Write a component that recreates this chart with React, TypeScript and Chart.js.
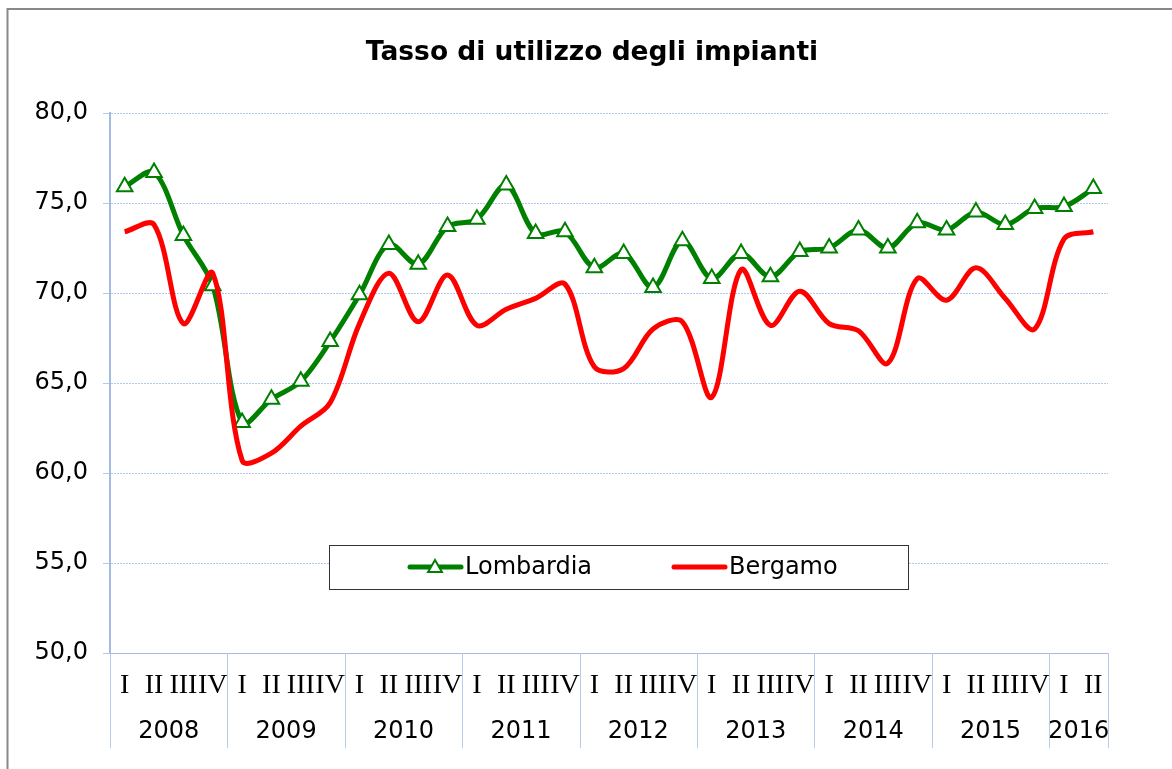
import { useEffect, useRef } from 'react';
import { Chart, registerables } from 'chart.js';

Chart.register(...registerables);

const TITLE = 'Tasso di utilizzo degli impianti';

const quarterLabels = [
  'I', 'II', 'III', 'IV',
  'I', 'II', 'III', 'IV',
  'I', 'II', 'III', 'IV',
  'I', 'II', 'III', 'IV',
  'I', 'II', 'III', 'IV',
  'I', 'II', 'III', 'IV',
  'I', 'II', 'III', 'IV',
  'I', 'II', 'III', 'IV',
  'I', 'II',
];

const yearLabels = ['2008', '2009', '2010', '2011', '2012', '2013', '2014', '2015', '2016'];
const quartersPerYear = [4, 4, 4, 4, 4, 4, 4, 4, 2];

const lombardia = [
  75.9, 76.7, 73.2, 70.4,
  62.8, 64.1, 65.1, 67.3,
  69.9, 72.7, 71.6, 73.7,
  74.1, 76.0, 73.3, 73.4,
  71.4, 72.2, 70.3, 72.9,
  70.8, 72.2, 70.9, 72.3,
  72.5, 73.5, 72.5, 73.9,
  73.5, 74.5, 73.8, 74.7,
  74.8, 75.8,
];

const bergamo = [
  73.4, 73.8, 68.3, 71.1,
  60.7, 61.1, 62.6, 63.9,
  68.3, 71.1, 68.4, 71.0,
  68.2, 69.1, 69.7, 70.5,
  65.9, 65.8, 68.0, 68.4,
  64.2, 71.3, 68.2, 70.1,
  68.3, 67.9, 66.1, 70.8,
  69.6, 71.4, 69.7, 68.0,
  73.0, 73.4,
];

const Y_MIN = 50;
const Y_MAX = 80;
const Y_STEP = 5;

const GREEN = '#008000';
const RED = '#ff0000';
const AXIS_BLUE = '#a3bbe4';
const GRID_BLUE = '#b3c7ee';
const SANS = '"DejaVu Sans", Verdana, sans-serif';
const SERIF = '"Liberation Serif", "Times New Roman", serif';

const decorPlugin = {
  id: 'decor',
  beforeDraw(chart: any) {
    const { ctx, width, height } = chart;
    ctx.save();
    ctx.fillStyle = '#ffffff';
    ctx.fillRect(0, 0, width, height);
    ctx.strokeStyle = '#888888';
    ctx.lineWidth = 2;
    ctx.strokeRect(7.5, 9, width + 50, height + 50);
    ctx.restore();
  },
  afterDraw(chart: any) {
    const { ctx, chartArea } = chart;
    const xs = chart.scales.x;
    ctx.save();

    // Title
    ctx.fillStyle = '#000000';
    ctx.font = `bold 26.5px ${SANS}`;
    ctx.textAlign = 'center';
    ctx.textBaseline = 'middle';
    ctx.fillText(TITLE, 592, 53);

    // Quarter labels
    ctx.font = `28px ${SERIF}`;
    ctx.textBaseline = 'middle';
    quarterLabels.forEach((q, i) => {
      ctx.fillText(q, xs.getPixelForValue(i), chartArea.bottom + 33);
    });

    // Year groups and separators
    ctx.font = `24px ${SANS}`;
    ctx.strokeStyle = '#b9c9e8';
    ctx.lineWidth = 1;
    let start = 0;
    yearLabels.forEach((y, k) => {
      const n = quartersPerYear[k];
      const x0 = xs.getPixelForValue(start - 0.5);
      const x1 = xs.getPixelForValue(start + n - 0.5);
      ctx.fillText(y, (x0 + x1) / 2, chartArea.bottom + 79);
      ctx.beginPath();
      ctx.moveTo(Math.round(x0) + 0.5, chartArea.bottom);
      ctx.lineTo(Math.round(x0) + 0.5, chartArea.bottom + 95);
      ctx.stroke();
      if (k === yearLabels.length - 1) {
        ctx.beginPath();
        ctx.moveTo(Math.round(x1) + 0.5, chartArea.bottom);
        ctx.lineTo(Math.round(x1) + 0.5, chartArea.bottom + 95);
        ctx.stroke();
      }
      start += n;
    });

    // Legend box
    const bx = 329, by = 545, bw = 579, bh = 44;
    ctx.fillStyle = '#ffffff';
    ctx.fillRect(bx, by, bw, bh);
    ctx.strokeStyle = '#333333';
    ctx.lineWidth = 1;
    ctx.strokeRect(bx + 0.5, by + 0.5, bw, bh);
    const ly = by + bh / 2;
    ctx.lineCap = 'round';
    ctx.lineWidth = 5;
    ctx.strokeStyle = GREEN;
    ctx.beginPath();
    ctx.moveTo(410, ly);
    ctx.lineTo(461, ly);
    ctx.stroke();
    // triangle marker
    const r = 8;
    ctx.lineCap = 'butt';
    ctx.lineWidth = 2;
    ctx.beginPath();
    for (let j = 0; j < 3; j++) {
      const a = j * (2 * Math.PI / 3);
      const px = 435 + Math.sin(a) * r;
      const py = ly + 1 - Math.cos(a) * r;
      if (j === 0) ctx.moveTo(px, py); else ctx.lineTo(px, py);
    }
    ctx.closePath();
    ctx.fillStyle = '#ffffff';
    ctx.fill();
    ctx.stroke();
    ctx.lineCap = 'round';
    ctx.lineWidth = 5;
    ctx.strokeStyle = RED;
    ctx.beginPath();
    ctx.moveTo(674, ly);
    ctx.lineTo(725, ly);
    ctx.stroke();
    ctx.fillStyle = '#000000';
    ctx.font = `24px ${SANS}`;
    ctx.textAlign = 'left';
    ctx.textBaseline = 'middle';
    ctx.fillText('Lombardia', 465, ly + 1);
    ctx.fillText('Bergamo', 729, ly + 1);

    ctx.restore();
  },
};

export default function App() {
  const ref = useRef<HTMLCanvasElement | null>(null);

  useEffect(() => {
    if (!ref.current) return;
    const chart = new Chart(ref.current, {
      type: 'line',
      data: {
        labels: quarterLabels,
        datasets: [
          {
            label: 'Lombardia',
            data: lombardia,
            borderColor: GREEN,
            borderWidth: 5,
            tension: 0.33,
            pointStyle: 'triangle',
            pointRadius: 9,
            pointBorderWidth: 2,
            pointBorderColor: GREEN,
            pointBackgroundColor: '#ffffff',
            order: 1,
            clip: false,
          },
          {
            label: 'Bergamo',
            data: bergamo,
            borderColor: RED,
            borderWidth: 5,
            tension: 0.33,
            pointRadius: 0,
            order: 0,
            clip: false,
          },
        ],
      },
      options: {
        responsive: false,
        animation: false,
        layout: { padding: { top: 113, right: 64, left: 0, bottom: 0 } },
        plugins: {
          legend: { display: false },
          title: { display: false },
          tooltip: { enabled: false },
        },
        scales: {
          x: {
            type: 'category',
            offset: true,
            grid: { display: false },
            border: { display: true, color: AXIS_BLUE, width: 1 },
            ticks: { display: false },
            afterFit: (s: any) => { s.height = 116; },
          },
          y: {
            min: Y_MIN,
            max: Y_MAX,
            ticks: {
              stepSize: Y_STEP,
              color: '#000000',
              padding: 15,
              font: { family: SANS, size: 24 },
              callback: (v: any) => Number(v).toFixed(1).replace('.', ','),
            },
            grid: {
              color: GRID_BLUE,
              lineWidth: 1,
              tickLength: 7,
            },
            border: { display: true, color: AXIS_BLUE, width: 2, dash: [2, 1] },
            afterFit: (s: any) => { s.width = 110; },
          },
        },
      },
      plugins: [decorPlugin],
    });
    return () => chart.destroy();
  }, []);

  return (
    <div style={{ position: 'fixed', left: 0, top: 0, width: 1172, height: 769, background: '#fff' }}>
      <canvas ref={ref} width={1172} height={769} style={{ display: 'block' }} />
    </div>
  );
}
